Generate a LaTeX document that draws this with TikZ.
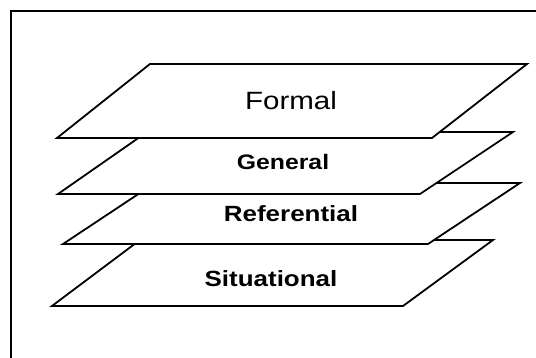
\documentclass[tikz,border=0pt]{standalone}
\usepackage{fontspec}
\setmainfont{Liberation Sans}
\begin{document}
\begin{tikzpicture}[x=1pt,y=-1pt,
  layer/.style={draw=black,fill=white,line width=1.8pt,line join=miter},
  frameline/.style={draw=black,line width=2.2pt},
  lbl/.style={anchor=base,inner sep=0pt,text=black},
  bigtxt/.style={lbl,font=\fontsize{25}{25}\selectfont},
  boldtxt/.style={lbl,font=\fontsize{22}{22}\selectfont\bfseries}]
\useasboundingbox (0,0) rectangle (536,358);

% frame around the figure
\coordinate (fbl) at (11,358);
\coordinate (ftl) at (11,11);
\coordinate (ftr) at (536,11);
\draw[frameline] (fbl) -- (ftl) -- (ftr);

% stacked planes, drawn from the bottom up
\draw[layer] (52,306) -- (140,240) -- (493,240) -- (403,306) -- cycle;
\draw[layer] (63,244) -- (155,183) -- (520,183) -- (428,244) -- cycle;
\draw[layer] (58,194) -- (147,132) -- (513,132) -- (420,194) -- cycle;
\draw[layer] (57,138) -- (150,64) -- (527,64) -- (432,138) -- cycle;

% plane labels
\node[bigtxt] (formal) at (291,110) {\scalebox{1.18}[1]{Formal}};
\node[boldtxt,font=\fontsize{21}{21}\selectfont\bfseries] (general) at (283,170) {\scalebox{1.18}[1]{General}};
\node[boldtxt] (referential) at (291,221.5) {\scalebox{1.18}[1]{Referential}};
\node[boldtxt] (situational) at (271,287) {\scalebox{1.18}[1]{Situational}};
\end{tikzpicture}
\end{document}
